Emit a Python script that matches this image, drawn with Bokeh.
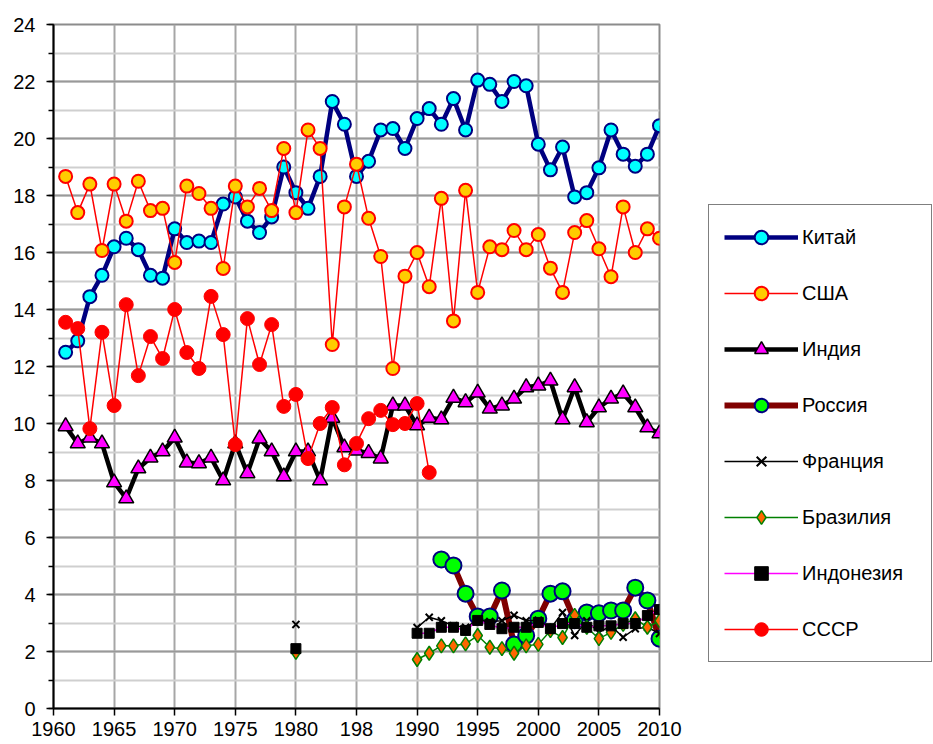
import numpy as np
from bokeh.plotting import figure
from bokeh.models import FixedTicker, SingleIntervalTicker, Legend, LegendItem
from bokeh.embed import file_html
from bokeh.resources import INLINE

# ---------------- data ----------------
years_full = list(range(1961, 2011))

china = [12.5, 12.9, 14.45, 15.2, 16.2, 16.5, 16.1, 15.2, 15.1, 16.83,
         16.35, 16.4, 16.35, 17.7, 17.95, 17.1, 16.7, 17.25, 19.0, 18.1,
         17.55, 18.67, 21.3, 20.5, 18.67, 19.2, 20.3, 20.35, 19.65, 20.7,
         21.05, 20.5, 21.4, 20.3, 22.05, 21.9, 21.3, 22.0, 21.85, 19.8,
         18.9, 19.7, 17.95, 18.1, 18.97, 20.3, 19.45, 19.03, 19.45, 20.45]

usa = [18.67, 17.4, 18.4, 16.07, 18.4, 17.1, 18.5, 17.47, 17.55, 15.65,
       18.33, 18.07, 17.55, 15.44, 18.33, 17.6, 18.25, 17.47, 19.65, 17.4,
       20.3, 19.65, 12.77, 17.6, 19.1, 17.2, 15.86, 11.93, 15.17, 16.0,
       14.8, 17.9, 13.6, 18.18, 14.6, 16.2, 16.1, 16.77, 16.1, 16.63,
       15.45, 14.6, 16.7, 17.12, 16.13, 15.15, 17.6, 16.0, 16.83, 16.5]

india = [9.9, 9.3, 9.5, 9.3, 7.93, 7.37, 8.42, 8.8, 9.02, 9.5,
         8.63, 8.6, 8.8, 8.0, 9.3, 8.25, 9.47, 9.02, 8.14, 9.02,
         9.02, 8.0, 10.2, 9.16, 9.05, 8.96, 8.77, 10.63, 10.63, 9.93,
         10.2, 10.14, 10.9, 10.74, 11.08, 10.52, 10.63, 10.87, 11.27, 11.33,
         11.5, 10.14, 11.27, 10.04, 10.56, 10.87, 11.05, 10.56, 9.86, 9.65]

ussr_years = list(range(1961, 1992))
ussr = [13.55, 13.33, 9.82, 13.2, 10.63, 14.17, 11.68, 13.05, 12.28, 14.0,
        12.49, 11.93, 14.46, 13.12, 9.26, 13.68, 12.07, 13.47, 10.6, 11.02,
        8.77, 10.0, 10.56, 8.55, 9.3, 10.17, 10.46, 9.96, 10.0, 10.7, 8.28]

russia_years = list(range(1992, 2011))
russia = [5.23, 5.02, 4.03, 3.23, 3.23, 4.14, 2.25, 2.56, 3.15, 4.03,
          4.11, 3.1, 3.37, 3.34, 3.44, 3.44, 4.24, 3.79, 2.45]

late_years = [1980] + list(range(1990, 2011))
france = [2.95, 2.84, 3.2, 3.08, 2.9, 2.85, 3.1, 3.05, 3.08, 3.27, 3.08,
          3.1, 2.8, 3.37, 2.56, 3.08, 2.67, 2.9, 2.5, 2.8, 2.85, 2.63]
brazil = [1.97, 1.72, 1.94, 2.2, 2.2, 2.27, 2.56, 2.15, 2.1, 1.94, 2.2,
          2.25, 2.73, 2.49, 3.27, 2.85, 2.45, 2.67, 2.95, 3.15, 2.85, 3.08]
indonesia = [2.1, 2.64, 2.64, 2.85, 2.85, 2.74, 3.09, 2.95, 2.8, 2.85, 2.85,
             3.02, 2.8, 2.98, 2.98, 2.85, 2.9, 2.9, 2.98, 2.98, 3.26, 3.47]

x_ticks = [1960, 1965, 1970, 1975, 1980, 1985, 1990, 1995, 2000, 2005, 2010]
x_tick_labels = ["1960", "1965", "1970", "1975", "1980", "198", "1990",
                 "1995", "2000", "2005", "2010"]
y_ticks = [0, 2, 4, 6, 8, 10, 12, 14, 16, 18, 20, 22, 24]
y_tick_labels = [str(v) for v in y_ticks]

FONT = "Liberation Sans"


def gap_break(xs, ys):
    """Break the line where years are not consecutive (missing data)."""
    lx, ly = [], []
    for i, (x, y) in enumerate(zip(xs, ys)):
        if i > 0 and x - xs[i - 1] > 1:
            lx.append(np.nan)
            ly.append(np.nan)
        lx.append(x)
        ly.append(y)
    return lx, ly


p = figure(frame_width=606, frame_height=684,
           x_range=(1960, 2010), y_range=(0, 24),
           output_backend="svg", toolbar_location=None,
           min_border_left=53, min_border_right=274,
           min_border_top=24, min_border_bottom=36,
           background_fill_color="white", border_fill_color="white")

p.outline_line_color = "#8c8c8c"
p.outline_line_width = 2

# ticks / grids
p.xaxis.ticker = FixedTicker(ticks=x_ticks)
p.xaxis.major_label_overrides = dict(zip(x_ticks, x_tick_labels))
p.yaxis.ticker = SingleIntervalTicker(interval=2, num_minor_ticks=2)
p.yaxis.major_label_overrides = dict(zip(y_ticks, y_tick_labels))

p.xgrid.grid_line_color = "#a6a6a6"
p.xgrid.grid_line_width = 2
p.ygrid.grid_line_color = "#999999"
p.ygrid.grid_line_width = 2
p.ygrid.minor_grid_line_color = "#cfcfcf"
p.ygrid.minor_grid_line_width = 2

for ax in (p.xaxis, p.yaxis):
    ax.axis_line_color = "black"
    ax.axis_line_width = 2
    ax.major_tick_line_color = "black"
    ax.major_tick_line_width = 1.5
    ax.major_tick_in = 0
    ax.major_tick_out = 7
    ax.major_label_text_font = FONT
    ax.major_label_text_font_size = "20px"
    ax.major_label_text_color = "black"

p.yaxis.minor_tick_line_color = "black"
p.yaxis.minor_tick_line_width = 1.5
p.yaxis.minor_tick_in = 0
p.yaxis.minor_tick_out = 5
p.yaxis.major_label_standoff = 11
p.xaxis.minor_tick_line_color = None
p.xaxis.major_label_standoff = 6

items = []


def series(name, xs, ys, line_color, line_width, marker, size, fill, outline, outline_w):
    lx, ly = gap_break(xs, ys)
    lr = p.line(lx, ly, line_color=line_color, line_width=line_width, line_join="round")
    sr = p.scatter(xs, ys, marker=marker, size=size, fill_color=fill,
                   line_color=outline, line_width=outline_w)
    items.append(LegendItem(label=name, renderers=[lr, sr]))


series("Китай", years_full, china, "#000080", 4.5, "circle", 13, "#00ffff", "#000080", 2)
series("США", years_full, usa, "#ff0000", 1.5, "circle", 13, "#ffcc00", "#ff0000", 2)
series("Индия", years_full, india, "#000000", 4.5, "triangle", 15, "#ff00ff", "#000000", 1.5)
series("Россия", russia_years, russia, "#800000", 6, "circle", 16, "#00ff00", "#000080", 2)
series("Франция", late_years, france, "#000000", 1.5, "x", 10, None, "#000000", 2)
series("Бразилия", late_years, brazil, "#008000", 1.5, "diamond", 14, "#ff6600", "#008000", 1.5)
series("Индонезия", late_years, indonesia, "#ff00ff", 1.5, "square", 10, "#000000", "#000000", 1)
series("СССР", ussr_years, ussr, "#ff0000", 1.5, "circle", 14, "#ff0000", "#ff0000", 1)

legend = Legend(items=items, location=(49, 46), margin=0, padding=15,
                spacing=22, glyph_width=74, glyph_height=34, label_height=20,
                label_width=114, label_standoff=4,
                label_text_font=FONT, label_text_font_size="20px",
                label_text_color="black",
                border_line_color="black", border_line_width=1.5,
                background_fill_color="white", background_fill_alpha=1)
p.add_layout(legend, "right")

open("out.html", "w").write(file_html(p, INLINE))
